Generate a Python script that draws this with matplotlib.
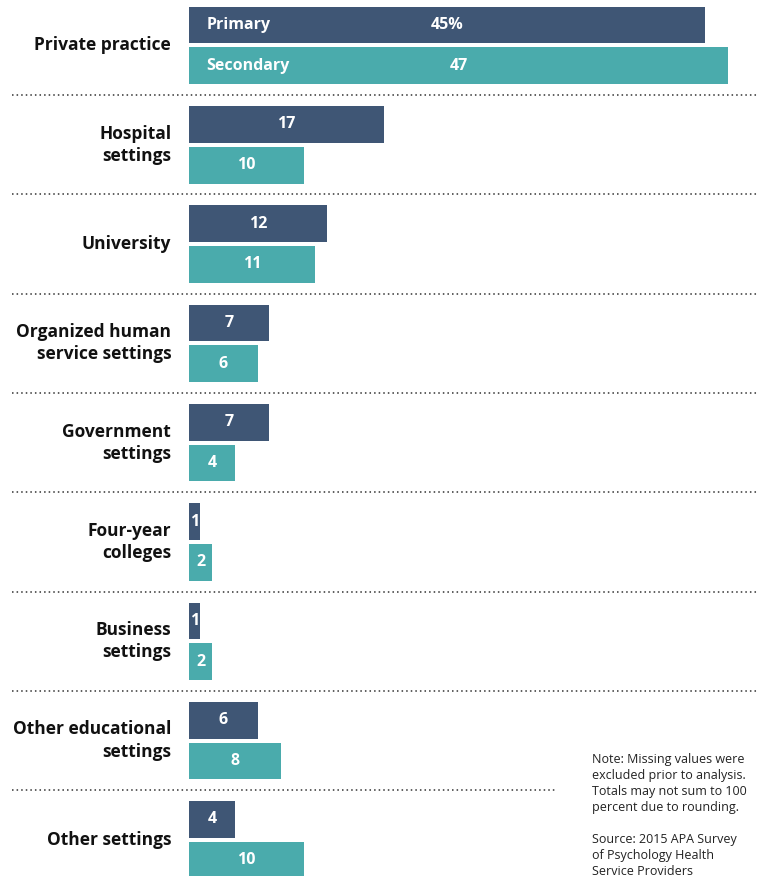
import matplotlib.pyplot as plt

plt.rcParams['font.family'] = ['Open Sans', 'DejaVu Sans']

categories = ["Private practice", "Hospital\nsettings", "University",
              "Organized human\nservice settings", "Government\nsettings",
              "Four-year\ncolleges", "Business\nsettings",
              "Other educational\nsettings", "Other settings"]
primary = [45, 17, 12, 7, 7, 1, 1, 6, 4]
secondary = [47, 10, 11, 6, 4, 2, 2, 8, 10]

note = ("Note: Missing values were\nexcluded prior to analysis.\n"
        "Totals may not sum to 100\npercent due to rounding.\n\n"
        "Source: 2015 APA Survey\nof Psychology Health\nService Providers")

c_prim = "#3f5675"
c_sec = "#4aabac"

fig = plt.figure(figsize=(7.62, 8.76), dpi=100)
ax = fig.add_axes([0, 0, 1, 1])
ax.set_xlim(-189 / 11.47, (762 - 189) / 11.47)
ax.set_ylim(8.364, -0.458)
ax.axis('off')

for i, cat in enumerate(categories):
    ax.barh(i - 0.205, primary[i], height=0.37, color=c_prim)
    ax.barh(i + 0.205, secondary[i], height=0.37, color=c_sec)
    p_txt = str(primary[i]) + ("%" if i == 0 else "")
    ax.text(primary[i] / 2, i - 0.205, p_txt, color="white", fontsize=11.5,
            fontweight="bold", ha="center", va="center")
    ax.text(secondary[i] / 2, i + 0.205, str(secondary[i]), color="white",
            fontsize=11.5, fontweight="bold", ha="center", va="center")
    ax.text(-1.55, i, cat, ha="right", va="center", fontsize=12.5,
            fontweight="bold", linespacing=1.3, color="#111111")
    if i < len(categories) - 1:
        x_end = 0.729 if i == len(categories) - 2 else 0.994
        ax.axhline(i + 0.5, xmin=0.016, xmax=x_end, color="#333333",
                   linestyle=(0, (1, 2)), linewidth=1.1)

# legend labels inside first bars
ax.text(1.5, -0.205, "Primary", color="white", fontsize=11.5,
        fontweight="bold", ha="left", va="center")
ax.text(1.5, 0.205, "Secondary", color="white", fontsize=11.5,
        fontweight="bold", ha="left", va="center")

fig.text(592 / 762, 1 - 753 / 876, note, ha="left", va="top",
         fontsize=9, linespacing=1.3, color="#222222")

fig.savefig("out.png", dpi=100)
